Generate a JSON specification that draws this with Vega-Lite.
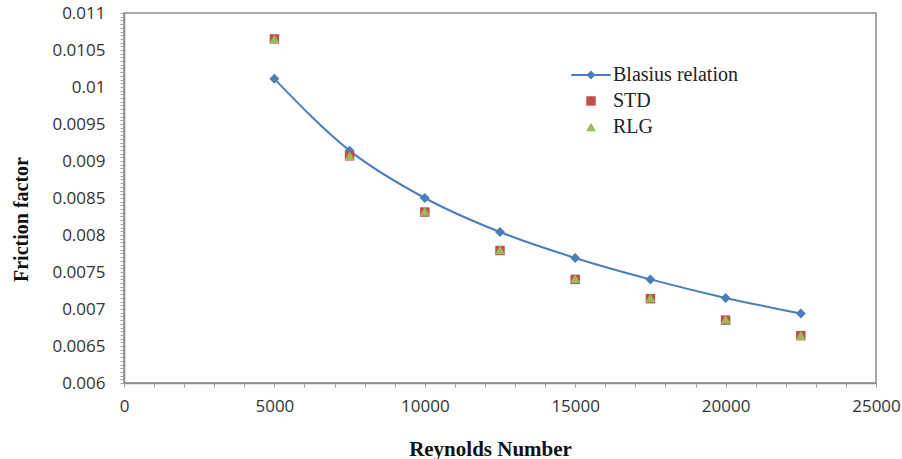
{
  "$schema": "https://vega.github.io/schema/vega-lite/v6.json",
  "width": 752,
  "height": 370,
  "autosize": {"type": "none"},
  "padding": {"left": 124, "top": 13, "right": 26, "bottom": 76},
  "background": "white",
  "config": {
    "view": {"stroke": "#8c8c8c", "strokeWidth": 1.5},
    "axis": {
      "domainColor": "#8c8c8c",
      "domainWidth": 1.5,
      "tickColor": "#a0a0a0",
      "grid": false,
      "labelFont": "Open Sans",
      "labelFontSize": 17,
      "labelColor": "#333333",
      "titleFont": "Liberation Serif",
      "titleFontWeight": "bold",
      "titleFontSize": 20,
      "titleColor": "#111111"
    }
  },
  "data": {
    "values": [
      {"series": "Blasius relation", "Re": 5000, "f": 0.01011},
      {"series": "Blasius relation", "Re": 7500, "f": 0.00914},
      {"series": "Blasius relation", "Re": 10000, "f": 0.0085},
      {"series": "Blasius relation", "Re": 12500, "f": 0.00804},
      {"series": "Blasius relation", "Re": 15000, "f": 0.00769},
      {"series": "Blasius relation", "Re": 17500, "f": 0.0074},
      {"series": "Blasius relation", "Re": 20000, "f": 0.00715},
      {"series": "Blasius relation", "Re": 22500, "f": 0.00694},
      {"series": "STD", "Re": 5000, "f": 0.01065},
      {"series": "STD", "Re": 7500, "f": 0.00907},
      {"series": "STD", "Re": 10000, "f": 0.00831},
      {"series": "STD", "Re": 12500, "f": 0.00779},
      {"series": "STD", "Re": 15000, "f": 0.0074},
      {"series": "STD", "Re": 17500, "f": 0.00714},
      {"series": "STD", "Re": 20000, "f": 0.00685},
      {"series": "STD", "Re": 22500, "f": 0.00664},
      {"series": "RLG", "Re": 5000, "f": 0.01065},
      {"series": "RLG", "Re": 7500, "f": 0.00907},
      {"series": "RLG", "Re": 10000, "f": 0.00832},
      {"series": "RLG", "Re": 12500, "f": 0.0078},
      {"series": "RLG", "Re": 15000, "f": 0.00741},
      {"series": "RLG", "Re": 17500, "f": 0.00715},
      {"series": "RLG", "Re": 20000, "f": 0.00686},
      {"series": "RLG", "Re": 22500, "f": 0.00664}
    ]
  },
  "encoding": {
    "x": {
      "field": "Re",
      "type": "quantitative",
      "scale": {"domain": [0, 25000], "nice": false, "zero": false},
      "axis": {
        "title": "Reynolds Number",
        "tickCount": 25,
        "tickSize": 4,
        "labelPadding": 11,
        "labelFlush": false,
        "labelOverlap": false,
        "labelExpr": "datum.value % 5000 === 0 ? format(datum.value, 'd') : ''",
        "titleFontSize": 21,
        "titleX": 366,
        "titleY": 72,
        "titleAlign": "center",
        "titleBaseline": "alphabetic"
      }
    },
    "y": {
      "field": "f",
      "type": "quantitative",
      "scale": {"domain": [0.006, 0.011], "nice": false, "zero": false},
      "axis": {
        "title": "Friction factor",
        "tickCount": 100,
        "tickSize": 4,
        "labelPadding": 15,
        "labelOverlap": false,
        "labelFlush": false,
        "labelExpr": "abs(datum.value * 2000 - round(datum.value * 2000)) < 0.01 ? format(datum.value, '.4~f') : ''",
        "titleAngle": 270,
        "titleX": -97,
        "titleY": 206,
        "titleAlign": "center",
        "titleBaseline": "alphabetic"
      }
    }
  },
  "layer": [
    {
      "transform": [{"filter": "datum.series === 'Blasius relation'"}],
      "mark": {"type": "line", "interpolate": "monotone", "color": "#4a7ebb", "strokeWidth": 2},
      "encoding": {}
    },
    {
      "transform": [{"filter": "datum.series === 'Blasius relation'"}],
      "mark": {"type": "point", "filled": true, "opacity": 1, "shape": "diamond", "size": 100, "color": "#4a7ebb"},
      "encoding": {}
    },
    {
      "transform": [{"filter": "datum.series !== 'Blasius relation'"}],
      "mark": {"type": "point", "filled": true, "opacity": 1},
      "encoding": {
        "color": {
          "field": "series",
          "type": "nominal",
          "sort": ["Blasius relation", "STD", "RLG"],
          "scale": {"domain": ["Blasius relation", "STD", "RLG"], "range": ["#4a7ebb", "#c0504d", "#9bbb59"]},
          "legend": {
            "title": null,
            "orient": "none",
            "legendX": 457,
            "legendY": 52,
            "padding": 0,
            "rowPadding": 6,
            "labelFont": "Liberation Serif",
            "labelFontSize": 20,
            "labelColor": "#222222",
            "labelOffset": 12,
            "symbolOpacity": 1
          }
        },
        "shape": {
          "field": "series",
          "type": "nominal",
          "sort": ["Blasius relation", "STD", "RLG"],
          "scale": {"domain": ["Blasius relation", "STD", "RLG"], "range": ["M-4.4,-0.2L4.4,-0.2L4.4,0.2L-4.4,0.2ZM0,-1L1,0L0,1L-1,0Z", "square", "triangle-up"]}
        },
        "size": {
          "field": "series",
          "type": "nominal",
          "sort": ["Blasius relation", "STD", "RLG"],
          "scale": {"domain": ["Blasius relation", "STD", "RLG"], "range": [80, 100, 36]}
        }
      }
    }
  ]
}
